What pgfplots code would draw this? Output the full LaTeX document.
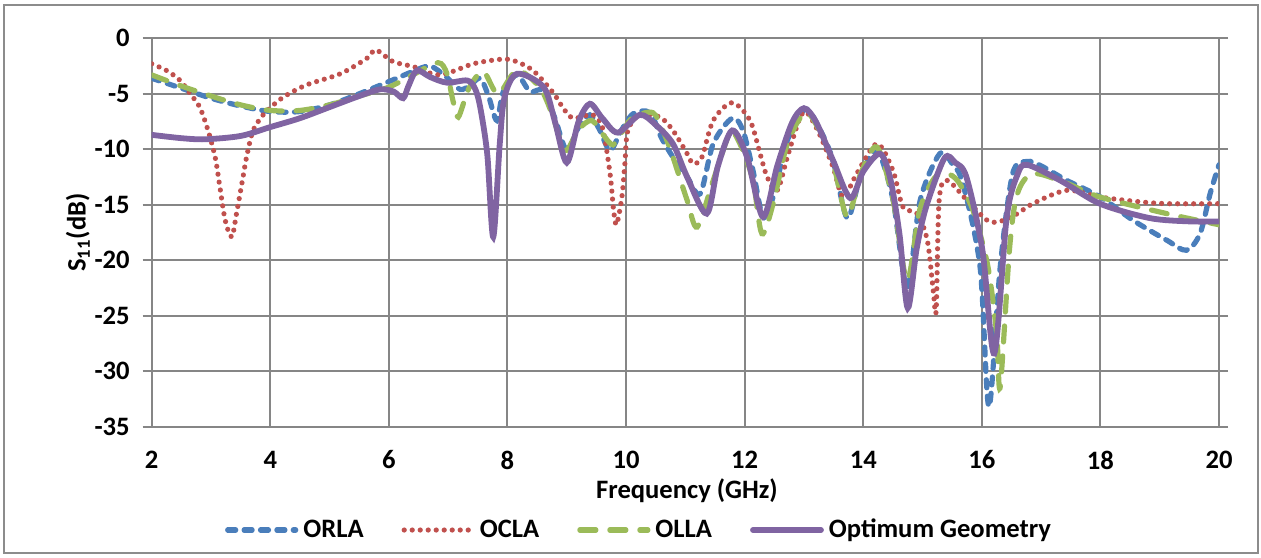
\documentclass[border=0pt]{standalone}
\usepackage{pgfplots}
\pgfplotsset{compat=1.18}
\usepackage{fontspec}
\setmainfont{Carlito}
\definecolor{cblue}{RGB}{74,126,187}
\definecolor{cred}{RGB}{192,80,77}
\definecolor{cgreen}{RGB}{155,187,89}
\definecolor{cpurple}{RGB}{128,100,162}
\definecolor{gridgray}{RGB}{134,134,134}
\definecolor{framegray}{RGB}{140,140,140}
\newcommand{\chartfont}{\bfseries\fontsize{13.3}{16}\selectfont}
\begin{document}
\begin{tikzpicture}
\begin{axis}[
  name=ax,
  scale only axis, width=533.65pt, height=194.2pt,
  xmin=2, xmax=20, ymin=-35, ymax=0,
  xtick={2,4,...,20}, ytick={-35,-30,...,0},
  xticklabels={2,4,6,8,10,12,14,16,18,20},
  yticklabels={-35,-30,-25,-20,-15,-10,-5,0},
  grid=major, major grid style={color=gridgray, line width=1pt},
  axis line style={color=gridgray, line width=1pt},
  tick align=outside, major tick length=4.5pt,
  xtick style={draw=none},
  ytick style={color=gridgray, line width=1pt},
  ticklabel style={font=\chartfont},
  xticklabel style={yshift=-4pt},
  yticklabel style={xshift=-3pt},
  xlabel={Frequency (GHz)},
  ylabel={S\textsubscript{11}(dB)},
  label style={font=\chartfont},
  xlabel style={at={(rel axis cs:0.5015,-0.1648)}, anchor=center},
  ylabel style={at={(rel axis cs:-0.0691,0.5)}, anchor=center},
  legend columns=4,
  legend style={at={(rel axis cs:0.4557,-0.266)}, anchor=center, draw=none, fill=none,
    font=\chartfont, nodes={inner sep=0pt}, column sep=2.5pt,
    /tikz/every even column/.append style={column sep=19pt}},
  legend image code/.code={\draw[#1] (0pt,0pt) -- (34pt,0pt);},
  every axis plot/.append style={line width=2.6pt, line cap=round, smooth},
]
\addplot[cblue, dash pattern=on 4pt off 4.2pt] coordinates {
(2.0,-3.6) (2.5,-4.5) (3.0,-5.4) (3.5,-6.1) (4.0,-6.6) (4.5,-6.6) (5.0,-6.0) (5.5,-5.0) (6.0,-3.9) (6.4,-3.0) (6.69,-2.5) (6.95,-3.4) (7.2,-4.6) (7.38,-4.2) (7.54,-3.6) (7.68,-5.2) (7.82,-7.4) (7.93,-4.8) (8.16,-3.3) (8.38,-4.8) (8.6,-4.7) (8.8,-7.2) (9.0,-10.1) (9.2,-8.0) (9.39,-6.9) (9.55,-8.2) (9.73,-10.1) (9.92,-8.3) (10.12,-6.8) (10.4,-6.7) (10.6,-9.0) (10.79,-10.7) (11.03,-12.5) (11.25,-14.0) (11.47,-9.5) (11.79,-7.2) (11.97,-8.3) (12.14,-11.9) (12.31,-16.1) (12.48,-14.3) (12.72,-9.2) (13.02,-6.4) (13.25,-8.0) (13.49,-11.0) (13.73,-16.2) (13.95,-12.5) (14.23,-10.1) (14.5,-14.5) (14.74,-22.5) (14.96,-14.6) (15.29,-10.4) (15.5,-11.3) (15.68,-13.1) (15.97,-20.6) (16.12,-33.2) (16.31,-20.6) (16.52,-12.2) (16.76,-11.1) (17.0,-11.5) (17.43,-12.8) (18.0,-14.3) (18.55,-16.4) (19.12,-18.2) (19.45,-19.1) (19.68,-17.6) (19.85,-14.0) (20.0,-11.4)
};
\addlegendentry{ORLA}
\addplot[cred, dash pattern=on 0pt off 4pt] coordinates {
(2.0,-2.3) (2.25,-2.9) (2.48,-3.8) (2.65,-5.0) (2.81,-6.2) (2.95,-8.3) (3.07,-10.7) (3.15,-13.4) (3.24,-16.4) (3.35,-17.9) (3.43,-15.8) (3.54,-12.5) (3.6,-10.7) (3.71,-8.3) (3.88,-6.9) (3.99,-6.3) (4.22,-5.3) (4.61,-4.2) (5.18,-3.2) (5.63,-1.8) (5.78,-1.05) (6.07,-2.1) (6.41,-2.55) (6.86,-3.3) (7.42,-2.3) (7.87,-1.9) (8.1,-2.0) (8.43,-2.9) (8.77,-4.9) (8.94,-6.3) (9.1,-7.2) (9.3,-7.0) (9.44,-6.9) (9.6,-8.0) (9.73,-12.2) (9.79,-15.5) (9.84,-16.8) (9.93,-14.3) (9.98,-11.3) (10.03,-8.3) (10.23,-6.9) (10.57,-7.1) (10.79,-8.3) (11.03,-10.4) (11.13,-11.3) (11.28,-10.7) (11.47,-7.4) (11.79,-5.8) (12.09,-7.4) (12.26,-10.4) (12.38,-12.5) (12.55,-13.7) (12.72,-10.7) (12.93,-7.2) (13.05,-6.7) (13.25,-8.5) (13.49,-11.6) (13.66,-14.3) (13.89,-12.2) (14.23,-9.5) (14.5,-11.9) (14.67,-15.2) (14.91,-15.8) (15.08,-18.2) (15.18,-22.7) (15.23,-24.5) (15.28,-14.6) (15.41,-12.8) (15.75,-14.6) (16.09,-16.4) (16.31,-16.5) (16.6,-15.8) (16.86,-14.9) (17.43,-13.7) (17.99,-14.3) (18.6,-14.7) (19.12,-14.9) (20.0,-14.9)
};
\addlegendentry{OCLA}
\addplot[cgreen, dash pattern=on 8pt off 7pt] coordinates {
(2.0,-3.3) (2.5,-4.3) (3.0,-5.2) (3.5,-6.0) (4.0,-6.5) (4.5,-6.5) (5.0,-6.0) (5.5,-5.2) (6.0,-4.4) (6.4,-3.3) (6.83,-2.2) (6.98,-3.2) (7.08,-5.6) (7.17,-7.1) (7.35,-4.5) (7.59,-3.0) (7.84,-5.0) (8.16,-2.9) (8.54,-4.4) (8.75,-6.8) (8.97,-10.1) (9.2,-8.2) (9.42,-7.4) (9.6,-8.6) (9.78,-9.6) (9.95,-8.3) (10.12,-7.1) (10.45,-6.7) (10.62,-8.3) (10.79,-10.7) (11.03,-14.6) (11.2,-17.0) (11.47,-12.8) (11.75,-8.6) (11.92,-9.5) (12.14,-12.8) (12.29,-17.6) (12.48,-14.9) (12.72,-9.5) (13.02,-6.7) (13.25,-8.2) (13.49,-11.2) (13.73,-16.1) (13.95,-12.3) (14.23,-9.8) (14.5,-14.5) (14.74,-21.8) (14.95,-15.5) (15.2,-12.6) (15.41,-12.2) (15.6,-12.9) (15.85,-15.5) (16.1,-20.5) (16.25,-26.6) (16.31,-31.4) (16.47,-18.8) (16.6,-14.0) (16.86,-12.2) (17.4,-13.0) (17.99,-14.3) (19.12,-15.8) (20.0,-16.8)
};
\addlegendentry{OLLA}
\addplot[cpurple, line width=2.9pt] coordinates {
(2.0,-8.7) (2.5,-9.0) (2.9,-9.1) (3.5,-8.8) (4.0,-8.0) (4.5,-7.2) (5.0,-6.2) (5.5,-5.2) (5.85,-4.6) (6.08,-4.8) (6.24,-5.4) (6.33,-4.3) (6.47,-2.9) (6.7,-3.5) (6.98,-4.0) (7.32,-3.8) (7.45,-4.5) (7.54,-6.2) (7.66,-10.5) (7.76,-17.9) (7.87,-9.5) (7.95,-5.3) (8.16,-3.2) (8.61,-4.4) (8.8,-7.5) (9.0,-11.2) (9.2,-7.5) (9.39,-5.9) (9.6,-7.2) (9.86,-8.5) (10.23,-6.9) (10.5,-7.8) (10.79,-9.5) (11.03,-12.5) (11.36,-15.8) (11.55,-11.5) (11.79,-8.3) (12.04,-10.7) (12.31,-16.1) (12.55,-11.5) (12.8,-7.6) (13.0,-6.3) (13.2,-7.5) (13.49,-11.0) (13.78,-14.4) (14.0,-12.0) (14.28,-10.4) (14.45,-12.5) (14.61,-17.6) (14.75,-24.3) (14.9,-19.0) (15.06,-15.2) (15.37,-10.8) (15.55,-11.2) (15.74,-12.5) (16.01,-19.1) (16.21,-28.4) (16.42,-16.1) (16.6,-12.3) (16.76,-11.4) (17.32,-12.8) (17.99,-14.9) (18.83,-16.2) (19.5,-16.5) (20.0,-16.5)
};
\addlegendentry{Optimum Geometry}
\end{axis}
\draw[framegray, line width=1pt] ([shift={(-73.6pt,-63.15pt)}]ax.south west) rectangle ([shift={(552.9pt,210.85pt)}]ax.south west);
\path[use as bounding box] ([shift={(-75.85pt,-65.15pt)}]ax.south west) rectangle ([shift={(554.65pt,213.35pt)}]ax.south west);
\end{tikzpicture}
\end{document}
